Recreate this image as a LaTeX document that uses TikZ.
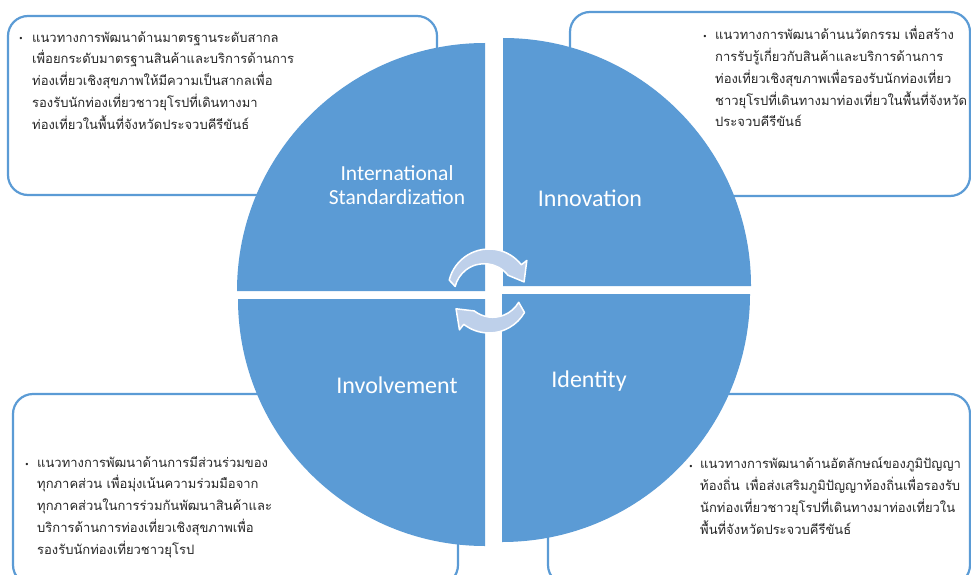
\documentclass[tikz,border=0pt]{standalone}
\usepackage{fontspec}
\setmainfont{Carlito}
\newfontfamily\thaifont[Script=Thai]{Loma}
\newfontfamily\symfont{DejaVu Sans}
\usetikzlibrary{positioning}
\definecolor{quadblue}{RGB}{91,155,213}
\definecolor{arrowblue}{RGB}{190,208,234}
\definecolor{textgray}{RGB}{38,38,38}
\tikzset{
	quad/.style={fill=quadblue},
	infobox/.style={draw=quadblue,line width=2.2pt,fill=white,rounded corners=20pt},
	title/.style={text=white,font=\fontsize{24}{26}\selectfont,align=center,inner sep=0pt},
	body/.style={text=textgray,font=\thaifont\fontsize{13}{21.75}\selectfont,align=left,anchor=base west,inner sep=0pt},
	bul/.style={text=textgray,font=\symfont\fontsize{8}{10}\selectfont,anchor=base,inner sep=0pt},
	cycarrow/.style={fill=arrowblue,draw=white,line width=1.5pt,line join=round}
}
\begin{document}
\begin{tikzpicture}[x=1pt,y=-1pt]
	\useasboundingbox (0,0) rectangle (971,575);

	\draw[infobox] (8,16) rectangle (437,195);
	\draw[infobox] (570,12) rectangle (970,196);
	\draw[infobox] (13,394) rectangle (458,585);
	\draw[infobox] (548,394) rectangle (970,585);

	\fill[quad] (485,291) -- (237,291) arc[start angle=180,end angle=270,radius=248] -- cycle;
	\fill[quad] (503,286) -- (503,38) arc[start angle=270,end angle=360,radius=248] -- cycle;
	\fill[quad] (502,294) -- (750,294) arc[start angle=0,end angle=90,radius=248] -- cycle;
	\fill[quad] (485,299) -- (485,546) arc[start angle=90,end angle=180,radius=247] -- cycle;

	\filldraw[cycarrow] ([shift={(489,290)}]194:41) arc[start angle=194,end angle=322,radius=41]
		-- ([shift={(489,290)}]322:48) -- ([shift={(489,290)}]347:36) -- ([shift={(489,290)}]322:24)
		arc[start angle=322,end angle=194,radius=30] -- cycle;
	\filldraw[cycarrow] ([shift={(489,292)}]30:41) arc[start angle=30,end angle=128,radius=41]
		-- ([shift={(489,292)}]128:48) -- ([shift={(489,292)}]153:37) -- ([shift={(489,292)}]128:24)
		arc[start angle=128,end angle=30,radius=30] -- cycle;

	\node[title,font=\fontsize{21.5}{24}\selectfont] (std) at (397,185) {International\\Standardization};
	\node[title] (inno) at (590,198) {Innovation};
	\node[title] (invo) at (397,385) {Involvement};
	\node[title] (iden) at (589,381) {Identity};

	\node[bul] (stdbul) at (21,42) {•};
	\node[body] (stdtext) at (32,129) {แนวทางการพัฒนาด้านมาตรฐานระดับสากล\\
		เพื่อยกระดับมาตรฐานสินค้าและบริการด้านการ\\
		ท่องเที่ยวเชิงสุขภาพให้มีความเป็นสากลเพื่อ\\
		รองรับนักท่องเที่ยวชาวยุโรปที่เดินทางมา\\
		ท่องเที่ยวในพื้นที่จังหวัดประจวบคีรีขันธ์};

	\node[bul] (innobul) at (705,40) {•};
	\node[body] (innotext) at (715,127) {แนวทางการพัฒนาด้านนวัตกรรม เพื่อสร้าง\\
		การรับรู้เกี่ยวกับสินค้าและบริการด้านการ\\
		ท่องเที่ยวเชิงสุขภาพเพื่อรองรับนักท่องเที่ยว\\
		ชาวยุโรปที่เดินทางมาท่องเที่ยวในพื้นที่จังหวัด\\
		ประจวบคีรีขันธ์};

	\node[bul] (invobul) at (27,467) {•};
	\node[body] (invotext) at (37,554) {แนวทางการพัฒนาด้านการมีส่วนร่วมของ\\
		ทุกภาคส่วน เพื่อมุ่งเน้นความร่วมมือจาก\\
		ทุกภาคส่วนในการร่วมกันพัฒนาสินค้าและ\\
		บริการด้านการท่องเที่ยวเชิงสุขภาพเพื่อ\\
		รองรับนักท่องเที่ยวชาวยุโรป};

	\node[bul] (idenbul) at (691,469) {•};
	\node[body] (identext) at (700,534) {แนวทางการพัฒนาด้านอัตลักษณ์ของภูมิปัญญา\\
		ท้องถิ่น\hspace{6pt}เพื่อส่งเสริมภูมิปัญญาท้องถิ่นเพื่อรองรับ\\
		นักท่องเที่ยวชาวยุโรปที่เดินทางมาท่องเที่ยวใน\\
		พื้นที่จังหวัดประจวบคีรีขันธ์};
\end{tikzpicture}
\end{document}
